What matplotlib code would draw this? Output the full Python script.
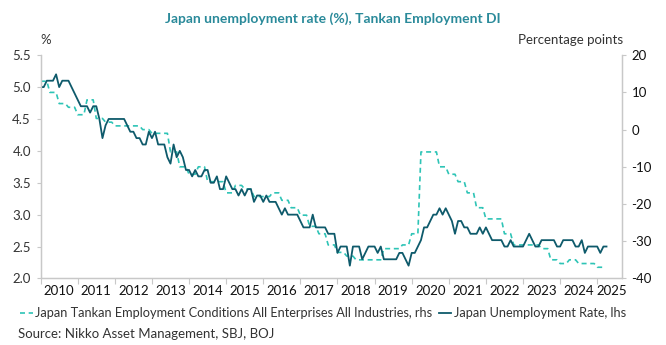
import matplotlib.pyplot as plt
import numpy as np
from matplotlib.lines import Line2D

plt.rcParams['font.family'] = ['Lato', 'DejaVu Sans']
plt.rcParams['axes.unicode_minus'] = False

# Japan unemployment rate (%), monthly from Jan 2010
unemp_2010 = [5.0, 5.0, 5.1, 5.1, 5.1, 5.2, 5.0, 5.1, 5.1, 5.1, 5.0, 4.9]
unemp_2011 = [4.8, 4.7, 4.7, 4.7, 4.6, 4.7, 4.7, 4.5, 4.2, 4.4, 4.5, 4.5]
unemp_2012 = [4.5, 4.5, 4.5, 4.5, 4.4, 4.3, 4.3, 4.2, 4.2, 4.1, 4.1, 4.3]
unemp_2013 = [4.2, 4.3, 4.1, 4.1, 4.1, 3.9, 3.8, 4.1, 3.9, 4.0, 3.9, 3.7]
unemp_2014 = [3.7, 3.6, 3.7, 3.6, 3.6, 3.7, 3.7, 3.5, 3.5, 3.6, 3.4, 3.4]
unemp_2015 = [3.6, 3.5, 3.4, 3.4, 3.3, 3.4, 3.3, 3.4, 3.4, 3.2, 3.3, 3.3]
unemp_2016 = [3.2, 3.3, 3.2, 3.2, 3.2, 3.1, 3.0, 3.1, 3.0, 3.0, 3.0, 3.0]
unemp_2017 = [2.9, 2.8, 2.8, 2.8, 3.0, 2.8, 2.8, 2.8, 2.8, 2.7, 2.7, 2.7]
unemp_2018 = [2.4, 2.5, 2.5, 2.5, 2.2, 2.5, 2.5, 2.5, 2.3, 2.4, 2.5, 2.5]
unemp_2019 = [2.5, 2.4, 2.5, 2.3, 2.3, 2.3, 2.3, 2.3, 2.4, 2.4, 2.3, 2.2]
unemp_2020 = [2.4, 2.4, 2.5, 2.6, 2.8, 2.8, 2.9, 3.0, 3.0, 3.1, 3.0, 3.1]
unemp_2021 = [3.0, 2.9, 2.7, 2.9, 2.9, 2.8, 2.8, 2.7, 2.7, 2.7, 2.8, 2.7]
unemp_2022 = [2.8, 2.7, 2.6, 2.6, 2.6, 2.6, 2.5, 2.5, 2.6, 2.5, 2.5, 2.5]
unemp_2023 = [2.5, 2.6, 2.7, 2.6, 2.5, 2.5, 2.6, 2.6, 2.6, 2.6, 2.6, 2.5]
unemp_2024 = [2.5, 2.6, 2.6, 2.6, 2.6, 2.5, 2.5, 2.6, 2.4, 2.5, 2.5, 2.5]
unemp_2025 = [2.5, 2.4, 2.5, 2.5]

# Tankan Employment Conditions DI, quarterly from Q1 2010 (% pts)
tankan_q = [13, 10, 7, 6,
            4, 8, 3, 2,
            1, 1, 1, 0,
            -1, -1, -6, -10,
            -12, -10, -14, -14,
            -17, -15, -16, -18,
            -18, -17, -19, -21,
            -23, -26, -28, -31,
            -33, -34, -35, -35,
            -35, -32, -32, -31,
            -28, -6, -6, -10,
            -12, -14, -17, -21,
            -24, -24, -28, -31,
            -31, -31, -32, -35,
            -36, -35, -36, -36,
            -37]

years = list(range(2010, 2026))

unemp = np.array(unemp_2010 + unemp_2011 + unemp_2012 + unemp_2013 + unemp_2014
                 + unemp_2015 + unemp_2016 + unemp_2017 + unemp_2018 + unemp_2019
                 + unemp_2020 + unemp_2021 + unemp_2022 + unemp_2023 + unemp_2024
                 + unemp_2025)
x_unemp = 2010 + np.arange(len(unemp)) / 12

# quarterly value shown for each month of its quarter
tankan = np.repeat(tankan_q, 3)
x_tankan = 2010 + np.arange(len(tankan)) / 12

dark = '#0e5a6b'
light = '#2ec4b6'
grey = '#c8c8c8'
txt = '#333333'

fig = plt.figure(figsize=(6.66, 3.45), dpi=100)
ax = fig.add_axes([0.061, 0.193, 0.8725, 0.647])
ax2 = ax.twinx()

ax2.plot(x_tankan, tankan, color=light, lw=1.2, linestyle=(0, (3, 2.2)))
ax.plot(x_unemp, unemp, color=dark, lw=1.3)
ax.set_zorder(ax2.get_zorder() + 1)
ax.patch.set_visible(False)

ax.set_xlim(2010, 2025.66)
ax.set_ylim(2.0, 5.5)
ax2.set_ylim(-40, 20)
ax.set_yticks(np.arange(2.0, 5.51, 0.5))
ax.set_yticklabels([f'{v:.1f}' for v in np.arange(2.0, 5.51, 0.5)])
ax2.set_yticks(range(-40, 21, 10))

ax.set_xticks(years)
ax.set_xticklabels([])
ax.set_xticks([y + 0.5 for y in years[:-1]] + [2025.4], minor=True)
ax.set_xticklabels([str(y) for y in years], minor=True)
ax.tick_params(axis='x', which='major', length=4, color=grey, width=0.8)
ax.tick_params(axis='x', which='minor', length=0, pad=5, labelsize=9.5, labelcolor='#111111')
ax.tick_params(axis='y', length=3, color=grey, width=0.8, labelsize=9.5, labelcolor=txt, pad=4)
ax2.tick_params(axis='y', length=3, color=grey, width=0.8, labelsize=9.5, labelcolor='#111111', pad=4)

for a in (ax, ax2):
    a.spines['top'].set_visible(False)
    for s in ('left', 'right', 'bottom'):
        a.spines[s].set_color(grey)
        a.spines[s].set_linewidth(0.9)

fig.text(0.5, 0.945, 'Japan unemployment rate (%), Tankan Employment DI',
         ha='center', va='center', fontsize=10, fontweight='bold', color='#2a8a9a')
fig.text(0.061, 0.885, '%', ha='left', va='center', fontsize=9.5, color=txt)
fig.text(0.936, 0.885, 'Percentage points', ha='right', va='center', fontsize=9.5, color=txt)

handles = [Line2D([], [], color=light, lw=1.2, linestyle=(0, (3, 2.2))),
           Line2D([], [], color=dark, lw=1.3)]
labels = ['Japan Tankan Employment Conditions All Enterprises All Industries, rhs',
          'Japan Unemployment Rate, lhs']
fig.legend(handles, labels, loc='center left', bbox_to_anchor=(0.022, 0.092), ncol=2,
           frameon=False, fontsize=9.2, handlelength=1.0, handletextpad=0.2,
           columnspacing=0.5, labelcolor=txt, borderaxespad=0)
fig.text(0.027, 0.032, 'Source: Nikko Asset Management, SBJ, BOJ', ha='left', va='center',
         fontsize=9.5, color=txt)

fig.savefig('out.png', dpi=100)
